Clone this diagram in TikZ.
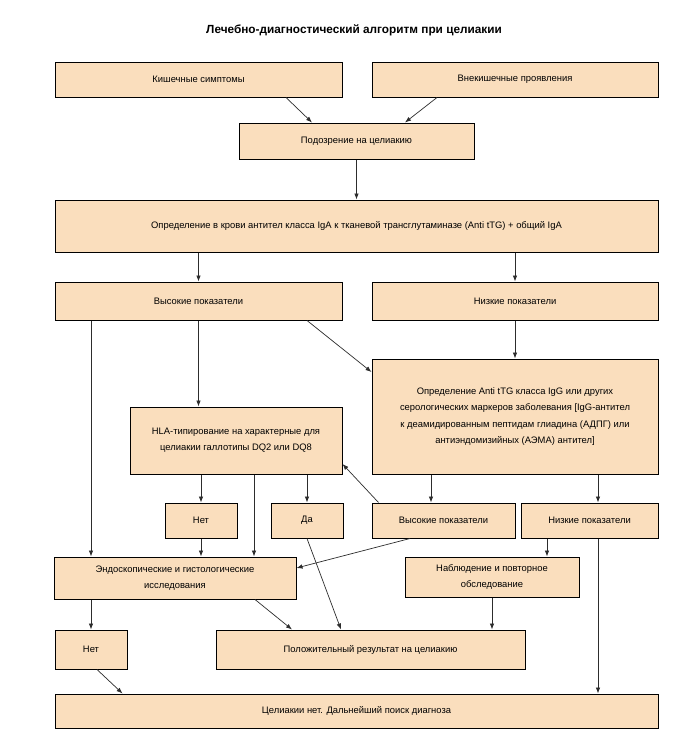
\documentclass[tikz,border=0pt]{standalone}
\usepackage{fontspec}
\setmainfont{Liberation Sans}
\usetikzlibrary{arrows.meta,calc}
\definecolor{peach}{RGB}{250,222,189}
\definecolor{edgegray}{RGB}{45,45,45}
\begin{document}
\begin{tikzpicture}[x=1pt,y=-1pt,
  box/.style={draw=black,line width=1pt,fill=peach,inner sep=2pt,align=center,
    font=\fontsize{9.4}{16.3}\selectfont},
  arr/.style={draw=edgegray,line width=0.7pt,-{Latex[length=6pt,width=4.5pt]}},
  ln/.style={draw=edgegray,line width=0.7pt}]
\useasboundingbox (0,0) rectangle (700,736);
\fill[white] (0,0) rectangle (700,736);
\node[font=\fontsize{11.8}{14}\selectfont\bfseries] (title) at (354,30) {Лечебно-диагностический алгоритм при целиакии};
\node[box,minimum width=287,minimum height=35] (b1) at (198.5,79.5) {Кишечные симптомы};
\node[box,minimum width=286,minimum height=35] (b2) at (515,79.5) {Внекишечные проявления};
\node[box,minimum width=235,minimum height=36] (b3) at (356.5,141) {Подозрение на целиакию};
\node[box,minimum width=603,minimum height=52] (b4) at (356.5,226) {Определение в крови антител класса IgA к тканевой трансглутаминазе (Anti tTG) + общий IgA};
\node[box,minimum width=287,minimum height=38] (b5) at (198.5,301) {Высокие показатели};
\node[box,minimum width=286,minimum height=38] (b6) at (515,301) {Низкие показатели};
\node[box,minimum width=286,minimum height=115] (b7) at (515,416.5) {Определение Anti tTG класса IgG или других\\серологических маркеров заболевания [IgG-антител\\к деамидированным пептидам глиадина (АДПГ) или\\антиэндомизийных (АЭМА) антител]};
\node[box,minimum width=212,minimum height=67] (b8) at (236,440.5) {HLA-типирование на характерные для\\целиакии галлотипы DQ2 или DQ8};
\node[box,minimum width=72,minimum height=35] (b9) at (201,520.5) {Нет};
\node[box,minimum width=72,minimum height=35] (b10) at (307,520.5) {Да};
\node[box,minimum width=143,minimum height=35] (b11) at (443.5,520.5) {Высокие показатели};
\node[box,minimum width=137,minimum height=35] (b12) at (589.5,520.5) {Низкие показатели};
\node[box,minimum width=242,minimum height=42] (b13) at (175,578) {Эндоскопические и гистологические\\исследования};
\node[box,minimum width=174,minimum height=40] (b14) at (492,577) {Наблюдение и повторное\\обследование};
\node[box,minimum width=72,minimum height=39] (b15) at (91,649.5) {Нет};
\node[box,minimum width=309,minimum height=39] (b16) at (370.5,649.5) {Положительный результат на целиакию};
\node[box,minimum width=603,minimum height=34] (b17) at (356.5,711) {Целиакии нет. Дальнейший поиск диагноза};
% helper coordinates
\coordinate (c1) at ([xshift=87.5pt]b1.south);
\coordinate (c2) at ([xshift=-78pt]b2.south);
\coordinate (h1) at ([xshift=18pt]b8.south);
\coordinate (h2) at ([xshift=-84pt]b7.south);
\coordinate (h3) at ([xshift=83pt]b7.south);
\coordinate (h4) at ([xshift=-42.5pt]b12.south);
\coordinate (h5) at ([xshift=8.5pt]b12.south);
% edges
\draw[arr] (c1) -- ([xshift=-44.5pt]b3.north);
\draw[arr] (c2) -- ([xshift=48.5pt]b3.north);
\draw[arr] (b3.south) -- (b4.north);
\draw[arr] (b4.south -| b5.north) -- (b5.north);
\draw[arr] (b4.south -| b6.north) -- (b6.north);
\draw[arr] (b5.south -| b15.north) -- (b13.north -| b15.north);
\draw[arr] (b5.south) -- (b8.north -| b5.south);
\draw[arr] ([xshift=108.5pt]b5.south) -- ([yshift=44.5pt]b7.west);
\draw[arr] (b6.south) -- (b7.north);
\draw[arr] (b8.south -| b9.north) -- (b9.north);
\draw[arr] (h1) -- (h1 |- b13.north);
\draw[arr] (b8.south -| b10.north) -- (b10.north);
\draw[arr] (h2) -- (h2 |- b11.north);
\draw[arr] (h3) -- (h3 |- b12.north);
\draw[arr] ([xshift=7pt]b11.north west) -- ([yshift=-23.5pt]b8.east);
\draw[arr] (b9.south) -- (b13.north -| b9.south);
\draw[arr] ([xshift=-33.5pt]b11.south) -- ([yshift=10pt]b13.east);
\draw[arr] (b10.south) -- ([xshift=-29.5pt]b16.north);
\draw[arr] (h4) -- (h4 |- b14.north);
\draw[arr] (h5) -- (h5 |- b17.north);
\draw[arr] (b13.south -| b15.north) -- (b15.north);
\draw[arr] ([xshift=80pt]b13.south) -- ([xshift=-78.5pt]b16.north);
\draw[arr] (b14.south) -- (b16.north -| b14.south);
\draw[arr] ([xshift=6pt]b15.south) -- ([xshift=68pt]b17.north west);
\end{tikzpicture}
\end{document}
